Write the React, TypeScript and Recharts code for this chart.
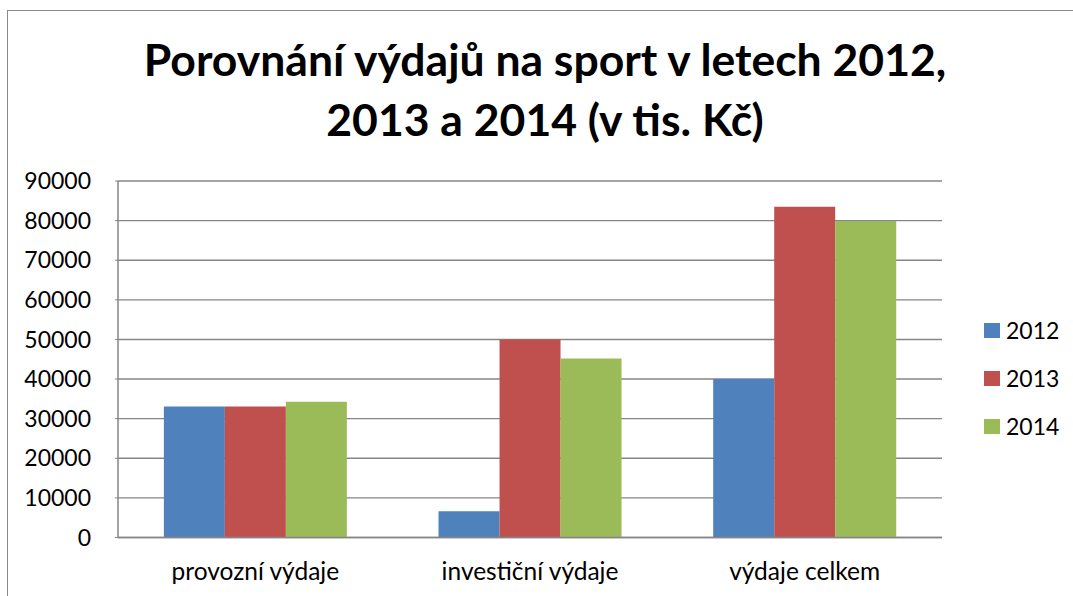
import React from "react";
import { BarChart, Bar, XAxis, YAxis, CartesianGrid } from "recharts";

const categories = ["provozní výdaje", "investiční výdaje", "výdaje celkem"];
const seriesNames = ["2012", "2013", "2014"];
const values2012 = [33100, 6600, 40000];
const values2013 = [33100, 50000, 83500];
const values2014 = [34300, 45200, 79900];
const yTicks = [0, 10000, 20000, 30000, 40000, 50000, 60000, 70000, 80000, 90000];
const titleLines = ["Porovnání výdajů na sport v letech 2012,", "2013 a 2014 (v tis. Kč)"];
const colors = ["#4F81BD", "#C0504D", "#9BBB59"];

const data = categories.map((c, i) => ({
  name: c,
  "2012": values2012[i],
  "2013": values2013[i],
  "2014": values2014[i],
}));

const FONT = "Lato, 'Noto Sans', sans-serif";

export default function App() {
  return (
    <div style={{ position: "relative", width: 1073, height: 596, background: "#fff", overflow: "hidden", fontFamily: FONT }}>
      <style>{`body{margin:0}`}</style>
      <div style={{ position: "absolute", left: 7, top: 10, right: -10, bottom: -10, borderLeft: "1.5px solid #8a8a8a", borderTop: "1.5px solid #8a8a8a" }} />
      <svg width={1073} height={160} style={{ position: "absolute", left: 0, top: 0 }}>
        {titleLines.map((t, i) => (
          <text key={i} x={545} y={76 + i * 60} textAnchor="middle" fontFamily={FONT} fontWeight={700} fontSize={44.5} fill="#000">
            {t}
          </text>
        ))}
      </svg>
      <div style={{ position: "absolute", left: 0, top: 0 }}>
        <BarChart width={1073} height={596} data={data} margin={{ top: 181, right: 131, bottom: 18.5, left: 8 }} barCategoryGap="16.7%" barGap={0}>
          <CartesianGrid vertical={false} stroke="#868686" strokeWidth={1.4} />
          <XAxis dataKey="name" height={40} tickLine={false} tickSize={0} tickMargin={25} axisLine={{ stroke: "#868686", strokeWidth: 1.5 }} tick={{ fill: "#000", fontSize: 24.5, fontFamily: FONT }} interval={0} />
          <YAxis width={110} domain={[0, 90000]} ticks={yTicks} interval={0} tickSize={3} tickMargin={24} tickLine={{ stroke: "#868686" }} axisLine={{ stroke: "#868686", strokeWidth: 1.5 }} tick={{ fill: "#000", fontSize: 23, fontFamily: FONT }} />
          {seriesNames.map((s, i) => (
            <Bar key={s} dataKey={s} fill={colors[i]} isAnimationActive={false} />
          ))}
        </BarChart>
      </div>
      {seriesNames.map((s, i) => (
        <div key={s} style={{ position: "absolute", left: 984, top: 322 + i * 48, height: 16, display: "flex", alignItems: "center" }}>
          <div style={{ width: 16, height: 15, background: colors[i] }} />
          <span style={{ marginLeft: 6, fontSize: 23, fontFamily: FONT, color: "#000", lineHeight: "16px" }}>{s}</span>
        </div>
      ))}
    </div>
  );
}
